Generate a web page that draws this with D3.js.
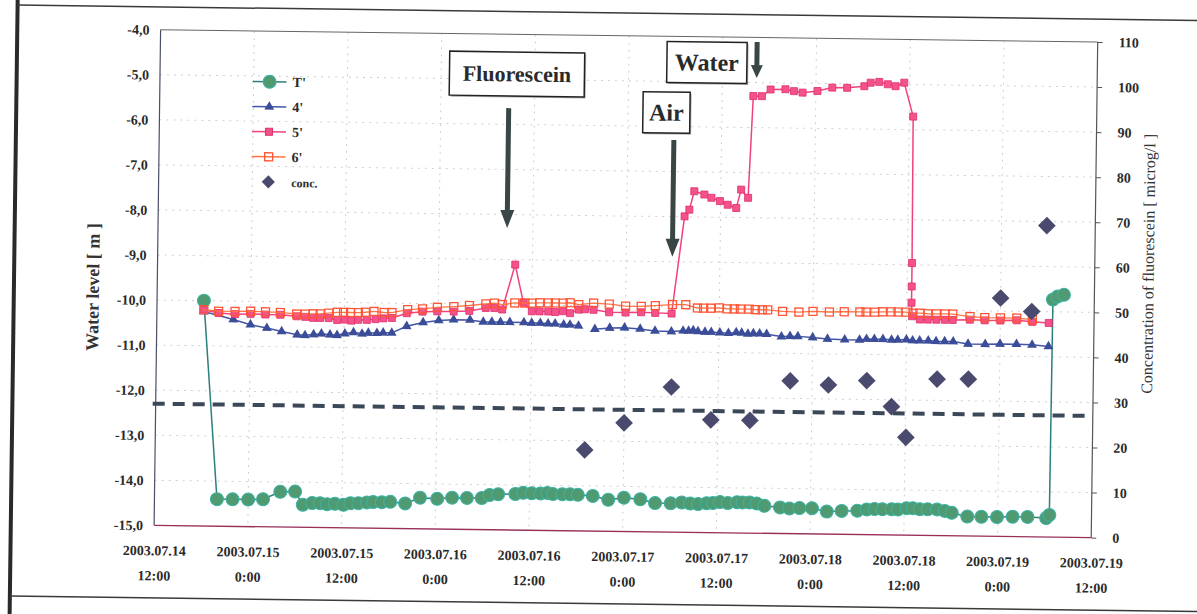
<!DOCTYPE html>
<html>
<head>
<meta charset="utf-8">
<script src="https://cdn.jsdelivr.net/npm/d3@7"></script>
<style>
  body { margin: 0; background: #fff; }
  svg { display: block; }
  text { font-family: "Liberation Serif", "Times New Roman", serif; }
</style>
</head>
<body>
<svg id="chart" width="1197" height="614"></svg>
<script>
// ---- time axis -------------------------------------------------------------
const startTime = new Date(2003, 6, 14, 12, 0);   // 2003.07.14 12:00
const endTime   = new Date(2003, 6, 19, 12, 0);   // 2003.07.19 12:00
const xTickLabels = [
  ["2003.07.14", "12:00"], ["2003.07.15", "0:00"], ["2003.07.15", "12:00"],
  ["2003.07.16", "0:00"],  ["2003.07.16", "12:00"], ["2003.07.17", "0:00"],
  ["2003.07.17", "12:00"], ["2003.07.18", "0:00"],  ["2003.07.18", "12:00"],
  ["2003.07.19", "0:00"],  ["2003.07.19", "12:00"]
];
const levelTicks = [-4, -5, -6, -7, -8, -9, -10, -11, -12, -13, -14, -15];
const concTicks  = [0, 10, 20, 30, 40, 50, 60, 70, 80, 90, 100, 110];

// ---- series (hours elapsed since 2003.07.14 12:00, water level in m) -------
const hoursT1 = [6.0, 8.0, 10.0, 12.0, 13.9, 16.1, 18.0, 19.0, 20.2, 21.2, 22.1, 23.1, 24.2, 25.1, 26.1, 27.2, 28.0, 29.1, 30.2, 32.1, 34.0, 36.2, 38.1, 40.0, 41.9, 42.9, 44.0, 46.2, 47.2, 48.3, 49.4, 50.3, 51.0, 52.2, 53.2, 54.2, 56.1, 58.1, 60.1, 62.2, 64.1, 66.1, 67.5, 68.6, 69.6, 70.7, 71.5, 72.4, 73.4, 74.6, 75.3, 76.2, 77.1, 78.1, 80.1, 81.3, 82.6, 84.2, 86.1, 88.0, 90.0, 91.2, 92.2, 93.2, 94.4, 95.2, 96.3, 97.1, 98.0, 99.0, 100.2, 101.2, 102.1, 104.1, 105.9, 107.9, 109.9, 111.8, 114.2, 114.6, 114.7, 115.3, 116.1];
const levelT1 = [-10.0, -14.40, -14.40, -14.40, -14.39, -14.22, -14.21, -14.50, -14.46, -14.46, -14.48, -14.47, -14.49, -14.45, -14.45, -14.43, -14.42, -14.42, -14.41, -14.44, -14.31, -14.33, -14.30, -14.30, -14.30, -14.23, -14.21, -14.20, -14.17, -14.18, -14.18, -14.17, -14.19, -14.19, -14.19, -14.20, -14.22, -14.30, -14.25, -14.28, -14.36, -14.36, -14.34, -14.36, -14.37, -14.35, -14.34, -14.32, -14.34, -14.32, -14.32, -14.32, -14.34, -14.39, -14.42, -14.44, -14.43, -14.43, -14.50, -14.48, -14.47, -14.44, -14.43, -14.43, -14.43, -14.43, -14.40, -14.40, -14.42, -14.42, -14.42, -14.45, -14.49, -14.57, -14.57, -14.57, -14.56, -14.56, -14.58, -14.51, -9.73, -9.66, -9.62];

// 4' has one missing reading (null) where its line is interrupted
const hours4 = [6.0, 9.8, 12.0, 14.1, 16.0, 18.0, 19.0, 20.1, 21.1, 22.2, 23.1, 24.1, 25.2, 26.3, 27.1, 28.2, 29.0, 30.1, 32.0, 34.1, 36.1, 38.0, 40.1, 41.8, 42.9, 44.0, 45.2, 47.0, 48.0, 49.1, 50.1, 51.0, 52.1, 52.9, 54.0, 55.0, 56.1, 58.0, 59.9, 61.9, 63.8, 65.9, 67.4, 68.1, 68.7, 69.3, 70.2, 71.0, 72.1, 73.2, 74.2, 74.9, 75.7, 76.4, 77.2, 78.1, 80.0, 81.1, 82.1, 84.0, 85.9, 88.1, 90.0, 90.9, 91.9, 93.0, 94.1, 94.9, 96.0, 96.8, 97.7, 98.8, 99.8, 100.9, 102.0, 103.9, 106.1, 108.0, 110.1, 112.1, 114.2];
const level4 = [-10.24, -10.41, -10.52, -10.59, -10.66, -10.73, -10.74, -10.72, -10.70, -10.72, -10.73, -10.69, -10.66, -10.69, -10.67, -10.67, -10.66, -10.66, -10.51, -10.42, -10.37, -10.35, -10.35, -10.39, -10.39, -10.39, -10.39, -10.39, -10.40, -10.40, -10.41, -10.41, -10.43, -10.43, -10.45, null, -10.52, -10.49, -10.48, -10.50, -10.54, -10.55, -10.53, -10.53, -10.52, -10.54, -10.55, -10.55, -10.56, -10.57, -10.55, -10.56, -10.58, -10.57, -10.57, -10.58, -10.63, -10.62, -10.62, -10.64, -10.67, -10.68, -10.68, -10.66, -10.66, -10.66, -10.67, -10.67, -10.66, -10.68, -10.68, -10.68, -10.69, -10.69, -10.69, -10.74, -10.74, -10.73, -10.73, -10.74, -10.77];

const hours5 = [6.0, 7.9, 10.0, 12.0, 13.9, 15.8, 17.9, 19.0, 20.0, 20.9, 22.0, 23.1, 24.1, 24.9, 25.8, 26.9, 28.0, 29.0, 30.1, 32.0, 34.0, 35.9, 38.0, 40.0, 42.1, 43.2, 44.2, 45.8, 46.9, 48.0, 49.0, 50.1, 51.0, 52.0, 52.9, 54.0, 54.8, 55.9, 57.9, 60.0, 62.0, 63.8, 65.9, 67.4, 68.0, 68.6, 69.9, 70.8, 71.9, 72.9, 74.0, 74.6, 75.5, 76.0, 77.1, 78.2, 80.1, 81.2, 82.3, 84.2, 86.1, 88.0, 90.2, 91.0, 92.1, 93.2, 94.2, 95.3, 96.5, 96.6, 96.6, 96.6, 96.7, 97.7, 98.7, 99.8, 100.9, 101.9, 104.1, 106.0, 108.0, 110.1, 112.1, 114.2];
const level5 = [-10.20, -10.27, -10.29, -10.28, -10.29, -10.29, -10.32, -10.33, -10.35, -10.35, -10.35, -10.39, -10.38, -10.40, -10.38, -10.38, -10.36, -10.34, -10.33, -10.22, -10.18, -10.17, -10.17, -10.15, -10.08, -10.08, -10.11, -9.11, -9.95, -10.14, -10.14, -10.14, -10.15, -10.13, -10.17, -10.09, -10.08, -10.09, -10.14, -10.14, -10.13, -10.14, -10.15, -7.99, -7.84, -7.43, -7.50, -7.57, -7.64, -7.72, -7.79, -7.38, -7.56, -5.30, -5.30, -5.15, -5.14, -5.18, -5.21, -5.17, -5.09, -5.09, -5.05, -4.97, -4.95, -5.00, -5.04, -4.96, -5.71, -8.96, -9.48, -9.84, -10.14, -10.21, -10.21, -10.21, -10.21, -10.21, -10.20, -10.21, -10.21, -10.20, -10.23, -10.25];

const hours6 = [6.0, 7.9, 10.0, 12.0, 13.9, 15.8, 17.9, 19.0, 20.0, 20.9, 22.0, 23.1, 23.9, 24.8, 25.8, 26.7, 27.8, 29.1, 30.1, 32.1, 34.0, 35.9, 38.0, 40.0, 42.1, 43.2, 44.2, 45.8, 47.1, 48.0, 49.0, 50.1, 51.0, 52.0, 52.9, 54.0, 55.9, 57.9, 60.0, 62.0, 63.8, 66.0, 67.7, 69.2, 70.0, 70.9, 72.0, 73.0, 73.9, 74.7, 75.8, 76.6, 77.5, 78.2, 80.1, 82.2, 84.0, 86.1, 88.0, 90.0, 90.8, 91.9, 92.9, 94.0, 94.9, 95.9, 96.8, 97.7, 98.7, 99.8, 100.9, 101.9, 104.1, 106.0, 108.0, 110.1, 112.1];
const level6 = [-10.20, -10.23, -10.23, -10.22, -10.23, -10.24, -10.27, -10.27, -10.26, -10.26, -10.24, -10.22, -10.22, -10.22, -10.22, -10.21, -10.19, -10.21, -10.21, -10.14, -10.12, -10.08, -10.06, -10.03, -9.99, -9.97, -10.00, -9.96, -9.96, -9.96, -9.95, -9.95, -9.95, -9.95, -9.94, -9.98, -9.94, -9.96, -10.00, -10.00, -9.98, -9.95, -9.95, -10.02, -10.02, -10.02, -10.01, -10.03, -10.03, -10.03, -10.03, -10.04, -10.04, -10.04, -10.07, -10.08, -10.06, -10.07, -10.06, -10.06, -10.06, -10.06, -10.05, -10.05, -10.05, -10.05, -10.07, -10.07, -10.08, -10.08, -10.08, -10.08, -10.13, -10.15, -10.15, -10.15, -10.18];

// fluorescein concentration samples (microg/l), right axis
const hoursConc = [55.0, 60.0, 66.0, 71.1, 76.1, 81.2, 86.1, 91.0, 94.2, 96.1, 100.0, 104.0, 108.0, 112.0, 113.8];
const conc      = [18.0, 24.1, 32.2, 25.0, 25.0, 33.9, 33.1, 34.2, 28.5, 21.7, 34.7, 34.8, 52.9, 50.0, 69.1];

// horizontal reference level (m)
const referenceLevel = -12.3;

// event annotations: label box anchor and arrow (hours, level)
const eventNames = ["Fluorescein", "Air", "Water"];
const eventBoxAt = [[45.7, -4.88], [64.9, -5.69], [70.0, -4.57]];
const eventArrow = [[44.7, -5.64, -8.30], [65.9, -6.30, -8.89], [76.4, -4.10, -4.90]];

const seriesNames = ["T'", "4'", "5'", "6'", "conc."];

// ---- layout ----------------------------------------------------------------
const plot = { left: 157.3, right: 1094.5, top: 35.8, bottom: 531.5 };
const tilt = 0.75;                    // the whole sheet sits slightly skewed
const svg = d3.select("#chart");
const root = svg.append("g").attr("transform", `rotate(${tilt},626,284)`);

const hourToDate = h => new Date(startTime.getTime() + h * 3600e3);
const x  = d3.scaleTime().domain([startTime, endTime]).range([plot.left, plot.right]);
const yL = d3.scaleLinear().domain([-15, -4]).range([plot.bottom, plot.top]);
const yR = d3.scaleLinear().domain([0, 110]).range([plot.bottom, plot.top]);

const commaLocale = d3.formatLocale({ decimal: ",", thousands: ".", grouping: [3], currency: ["", ""], minus: "-" });
const fmtLevel = commaLocale.format(".1f");

// outer frame of the sheet
const frame = root.append("g");
frame.append("line").attr("x1", 14).attr("x2", 14).attr("y1", -20).attr("y2", 640)
  .attr("stroke", "#2a2a2a").attr("stroke-width", 4);
frame.append("line").attr("x1", 14).attr("x2", 1230).attr("y1", 13).attr("y2", 13)
  .attr("stroke", "#3a3a3a").attr("stroke-width", 1.5);
frame.append("line").attr("x1", 14).attr("x2", 1230).attr("y1", 604).attr("y2", 604)
  .attr("stroke", "#3a3a3a").attr("stroke-width", 1.5);

// grid
const xTicks = xTickLabels.map((_, i) => hourToDate(i * 12));
const grid = root.append("g").attr("stroke", "#cfcfcf").attr("stroke-width", 1).attr("stroke-dasharray", "2,5");
grid.selectAll(".hg").data(levelTicks.filter(v => v > -15 && v < -4)).join("line")
  .attr("x1", plot.left).attr("x2", plot.right).attr("y1", d => yL(d)).attr("y2", d => yL(d));
grid.selectAll(".vg").data(xTicks.slice(1, -1)).join("line")
  .attr("y1", plot.top).attr("y2", plot.bottom).attr("x1", d => x(d)).attr("x2", d => x(d));

// plot border
root.append("line").attr("x1", plot.left).attr("x2", plot.right).attr("y1", plot.top).attr("y2", plot.top)
  .attr("stroke", "#666").attr("stroke-width", 1);
root.append("line").attr("x1", plot.right).attr("x2", plot.right).attr("y1", plot.top).attr("y2", plot.bottom)
  .attr("stroke", "#555").attr("stroke-width", 1.2);
root.append("line").attr("x1", plot.left).attr("x2", plot.left).attr("y1", plot.top).attr("y2", plot.bottom)
  .attr("stroke", "#4a4f66").attr("stroke-width", 1.2);
root.append("line").attr("x1", plot.left).attr("x2", plot.right).attr("y1", plot.bottom).attr("y2", plot.bottom)
  .attr("stroke", "#9a2f5a").attr("stroke-width", 1.4);

// axes
const axL = root.append("g").attr("transform", `translate(${plot.left},0)`)
  .call(d3.axisLeft(yL).tickValues(levelTicks).tickSize(0).tickPadding(11).tickFormat(fmtLevel));
const axR = root.append("g").attr("transform", `translate(${plot.right},0)`)
  .call(d3.axisRight(yR).tickValues(concTicks).tickSize(5).tickPadding(16));
const axB = root.append("g").attr("transform", `translate(0,${plot.bottom})`)
  .call(d3.axisBottom(x).tickValues(xTicks).tickSize(0).tickFormat(""));
[axL, axR, axB].forEach(a => {
  a.select(".domain").remove();
  a.selectAll("text").attr("font-family", "Liberation Serif").attr("font-size", 14)
    .attr("font-weight", "bold").attr("fill", "#2a2a2a");
});
axR.selectAll("line").attr("stroke", "#555");
axB.selectAll(".tick").each(function (d, i) {
  const t = d3.select(this).append("text").attr("text-anchor", "middle")
    .attr("font-size", 14).attr("font-weight", "bold").attr("fill", "#2a2a2a");
  t.append("tspan").attr("x", 0).attr("y", 30).text(xTickLabels[i][0]);
  t.append("tspan").attr("x", 0).attr("y", 55).text(xTickLabels[i][1]);
});

// axis titles
root.append("text").attr("transform", "translate(99,294) rotate(-90)")
  .attr("text-anchor", "middle").attr("font-size", 18).attr("font-weight", "bold").attr("fill", "#333")
  .text("Water level [ m ]");
root.append("text").attr("transform", "translate(1153.5,257) rotate(-90)")
  .attr("text-anchor", "middle").attr("font-size", 16).attr("fill", "#333")
  .text("Concentration of fluorescein [ microg/l ]");

// reference level
root.append("line").attr("x1", plot.left - 3).attr("x2", plot.right)
  .attr("y1", yL(referenceLevel)).attr("y2", yL(referenceLevel))
  .attr("stroke", "#3b4858").attr("stroke-width", 4).attr("stroke-dasharray", "12,8");

// series
const toPts = (hs, vs) => hs.map((h, i) => ({ t: hourToDate(h), v: vs[i] }));
const ptsT1 = toPts(hoursT1, levelT1);
const pts4  = toPts(hours4, level4);
const pts5  = toPts(hours5, level5);
const pts6  = toPts(hours6, level6);
const ptsC  = toPts(hoursConc, conc);

const line = d3.line().defined(d => d.v != null).x(d => x(d.t)).y(d => yL(d.v));
const series = root.append("g");

const styles = {
  T1: { line: "#2c7f7c", fill: "#4f9a70", stroke: "#3bb3a6" },
  S4: { line: "#4256a6", fill: "#3b4c98" },
  S5: { line: "#f2417f", fill: "#f5518b", stroke: "#dd2f6e" },
  S6: { line: "#ff7444", stroke: "#ff5536" },
  C:  { fill: "#4a4a6e" }
};

// T'
series.append("path").attr("d", line(ptsT1)).attr("fill", "none")
  .attr("stroke", styles.T1.line).attr("stroke-width", 1.5);
series.append("g").selectAll("circle").data(ptsT1).join("circle")
  .attr("cx", d => x(d.t)).attr("cy", d => yL(d.v)).attr("r", 6.5)
  .attr("fill", styles.T1.fill).attr("stroke", styles.T1.stroke).attr("stroke-width", 1);

// 4'
const tri = d3.symbol().type(d3.symbolTriangle).size(42);
series.append("path").attr("d", line(pts4)).attr("fill", "none")
  .attr("stroke", styles.S4.line).attr("stroke-width", 1.5);
series.append("g").selectAll("path").data(pts4.filter(d => d.v != null)).join("path")
  .attr("transform", d => `translate(${x(d.t)},${yL(d.v)})`).attr("d", tri)
  .attr("fill", styles.S4.fill);

// 5'
series.append("path").attr("d", line(pts5)).attr("fill", "none")
  .attr("stroke", styles.S5.line).attr("stroke-width", 1.5);
series.append("g").selectAll("rect").data(pts5).join("rect")
  .attr("x", d => x(d.t) - 3.5).attr("y", d => yL(d.v) - 3.5).attr("width", 7).attr("height", 7)
  .attr("fill", styles.S5.fill).attr("stroke", styles.S5.stroke).attr("stroke-width", 0.8);

// 6'
series.append("path").attr("d", line(pts6)).attr("fill", "none")
  .attr("stroke", styles.S6.line).attr("stroke-width", 1.3);
series.append("g").selectAll("rect").data(pts6).join("rect")
  .attr("x", d => x(d.t) - 4).attr("y", d => yL(d.v) - 4).attr("width", 8).attr("height", 8)
  .attr("fill", "none").attr("stroke", styles.S6.stroke).attr("stroke-width", 1.3);

// conc.
const diamond = d3.symbol().type(d3.symbolDiamond2).size(200);
series.append("g").selectAll("path").data(ptsC).join("path")
  .attr("transform", d => `translate(${x(d.t)},${yR(d.v)})`).attr("d", diamond)
  .attr("fill", styles.C.fill);

// legend
const legend = root.append("g").attr("transform", "translate(250,86.5)");
seriesNames.forEach((name, i) => {
  const g = legend.append("g").attr("transform", `translate(0,${i * 25})`);
  if (i < 4) {
    const lc = [styles.T1.line, styles.S4.line, styles.S5.line, styles.S6.line][i];
    g.append("line").attr("x1", 0).attr("x2", 34).attr("stroke", lc).attr("stroke-width", 1.5);
  }
  if (i === 0) g.append("circle").attr("cx", 17).attr("r", 6.5).attr("fill", styles.T1.fill).attr("stroke", styles.T1.stroke);
  if (i === 1) g.append("path").attr("transform", "translate(17,0)").attr("d", tri).attr("fill", styles.S4.fill);
  if (i === 2) g.append("rect").attr("x", 13.5).attr("y", -3.5).attr("width", 7).attr("height", 7).attr("fill", styles.S5.fill).attr("stroke", styles.S5.stroke);
  if (i === 3) g.append("rect").attr("x", 13).attr("y", -4).attr("width", 8).attr("height", 8).attr("fill", "none").attr("stroke", styles.S6.stroke).attr("stroke-width", 1.3);
  if (i === 4) g.append("path").attr("transform", "translate(17,0)").attr("d", d3.symbol().type(d3.symbolDiamond2).size(110)).attr("fill", styles.C.fill);
  g.append("text").attr("x", 40).attr("y", 5).attr("font-size", i === 4 ? 12 : 14).attr("font-weight", "bold")
    .attr("fill", "#2a2a2a").text(name);
});

// event annotations
const ann = root.append("g");
const boxW = [135, 47, 80], boxH = [44, 41, 41], boxFont = [22, 24, 24];
eventNames.forEach((name, i) => {
  const cx = x(hourToDate(eventBoxAt[i][0])), cy = yL(eventBoxAt[i][1]);
  ann.append("rect").attr("x", cx - boxW[i] / 2 + 1.5).attr("y", cy - boxH[i] / 2 + 1.5)
    .attr("width", boxW[i]).attr("height", boxH[i]).attr("fill", "#b5b5b5");
  ann.append("rect").attr("x", cx - boxW[i] / 2).attr("y", cy - boxH[i] / 2)
    .attr("width", boxW[i]).attr("height", boxH[i]).attr("fill", "#fff")
    .attr("stroke", "#222").attr("stroke-width", 1.5);
  ann.append("text").attr("x", cx).attr("y", cy + boxFont[i] * 0.34).attr("text-anchor", "middle")
    .attr("font-size", boxFont[i]).attr("font-weight", "bold").attr("fill", "#2a2a2a").text(name);

  const [h, v0, v1] = eventArrow[i];
  const ax = x(hourToDate(h)), ay0 = yL(v0), ay1 = yL(v1);
  const head = i === 2 ? 13 : 18, hw = i === 2 ? 6 : 7;
  ann.append("line").attr("x1", ax).attr("x2", ax).attr("y1", ay0).attr("y2", ay1 - head + 2)
    .attr("stroke", "#3a4646").attr("stroke-width", 5);
  ann.append("path").attr("d", `M${ax - hw},${ay1 - head}L${ax + hw},${ay1 - head}L${ax},${ay1}Z`)
    .attr("fill", "#3a4646");
});
</script>
</body>
</html>
